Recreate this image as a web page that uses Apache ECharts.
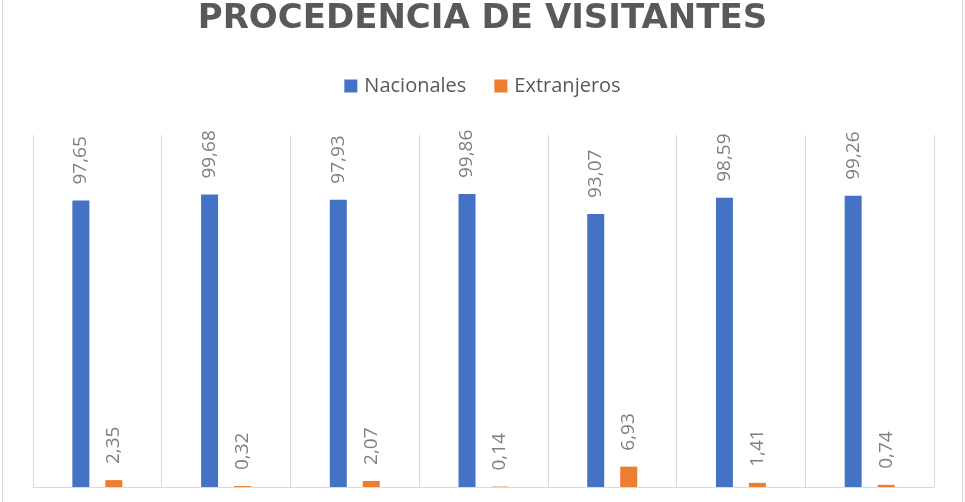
<!DOCTYPE html>
<html>
<head>
<meta charset="utf-8">
<script src="https://cdn.jsdelivr.net/npm/echarts@6/dist/echarts.min.js"></script>
<style>
html,body{margin:0;padding:0;background:#fff;}
#chart{width:965px;height:502px;}
</style>
</head>
<body>
<div id="chart"></div>
<script>
const categories = ['1', '2', '3', '4', '5', '6', '7'];
const nacionales = [97.65, 99.68, 97.93, 99.86, 93.07, 98.59, 99.26];
const extranjeros = [2.35, 0.32, 2.07, 0.14, 6.93, 1.41, 0.74];
const titleText = 'PROCEDENCIA DE VISITANTES';
const seriesNames = ['Nacionales', 'Extranjeros'];

const chart = echarts.init(document.getElementById('chart'));
const fmt = p => p.value.toFixed(2).replace('.', ',');
const labelCfg = {
  show: true, position: 'top', rotate: 90, align: 'left', verticalAlign: 'middle',
  distance: 16, formatter: fmt, color: '#7f7f7f', fontSize: 19, fontFamily: 'Open Sans'
};
chart.setOption({
  animation: false,
  backgroundColor: '#ffffff',
  title: {
    text: titleText, left: 'center', top: -3,
    textStyle: { fontFamily: 'DejaVu Sans', fontWeight: 'bold', fontSize: 34, color: '#595959' }
  },
  legend: {
    data: seriesNames, top: 71, left: 'center', icon: 'rect', itemWidth: 13, itemHeight: 13, itemGap: 28,
    textStyle: { fontFamily: 'Open Sans', fontSize: 20, color: '#595959', padding: [0, 0, 0, 2] }
  },
  grid: { left: 33, right: 31, top: 135, bottom: 15, containLabel: false },
  xAxis: {
    type: 'category', data: categories,
    axisLine: { show: true, lineStyle: { color: '#d9d9d9', width: 1 } },
    axisTick: { show: false }, axisLabel: { show: false },
    splitLine: { show: true, lineStyle: { color: '#d9d9d9', width: 1 } }
  },
  yAxis: { type: 'value', min: 0, max: 120, show: false, splitLine: { show: false } },
  series: [
    { name: seriesNames[0], type: 'bar', data: nacionales, barWidth: 17, barGap: '94%',
      itemStyle: { color: '#4472C4' }, label: labelCfg },
    { name: seriesNames[1], type: 'bar', data: extranjeros, barWidth: 17, barGap: '94%',
      itemStyle: { color: '#ED7D31' }, label: labelCfg }
  ],
  graphic: [
    { type: 'line', shape: { x1: 2.5, y1: 0, x2: 2.5, y2: 502 }, style: { stroke: '#d9d9d9', lineWidth: 1 } },
    { type: 'line', shape: { x1: 962.5, y1: 0, x2: 962.5, y2: 502 }, style: { stroke: '#d9d9d9', lineWidth: 1 } }
  ]
});
</script>
</body>
</html>
